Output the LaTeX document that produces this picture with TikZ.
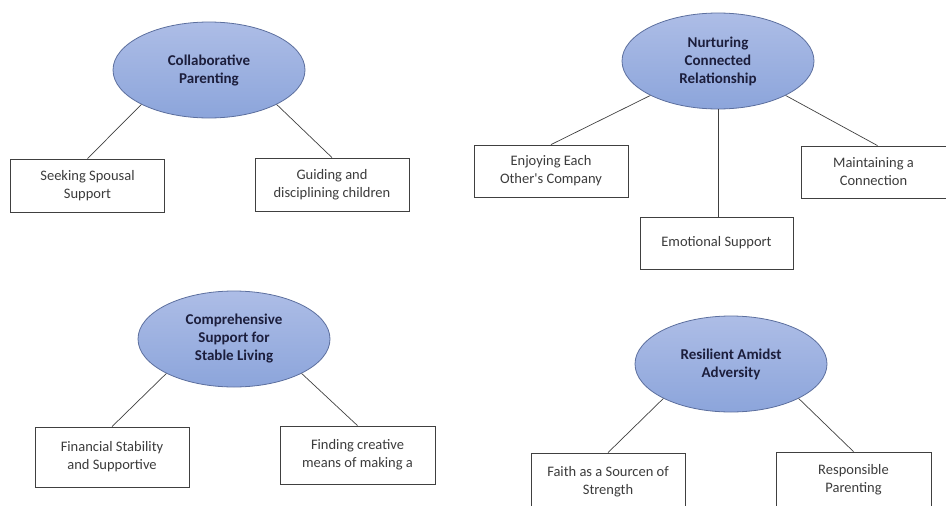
\documentclass[tikz,border=0pt]{standalone}
\usepackage{fontspec}
\setmainfont{Carlito}
\usetikzlibrary{shapes.geometric}
\definecolor{elltop}{HTML}{ADBDE6}
\definecolor{ellbot}{HTML}{8CA5DB}
\definecolor{elldraw}{HTML}{5C6F9E}
\definecolor{elltext}{HTML}{1C1E3C}
\definecolor{boxtext}{HTML}{3C3C3C}
\definecolor{linec}{HTML}{404040}
\tikzset{
  theme/.style={ellipse, draw=elldraw, line width=0.8pt, top color=elltop, bottom color=ellbot,
    minimum width=192pt, minimum height=96pt, inner sep=0pt, align=center,
    font=\fontsize{15}{18}\selectfont\bfseries, text=elltext},
  subbox/.style={rectangle, draw=black!75, line width=0.8pt, fill=white, minimum width=154pt,
    minimum height=53pt, inner sep=0pt, align=center, font=\fontsize{14.5}{18}\selectfont, text=boxtext},
  boxlabel/.style={align=center, font=\fontsize{14.5}{18}\selectfont, text=boxtext},
  link/.style={draw=linec, line width=0.7pt}
}
\begin{document}
\begin{tikzpicture}[x=1pt,y=-1pt]
\useasboundingbox (0,0) rectangle (946,506);
\clip (0,0) rectangle (946,506);
% Collaborative Parenting
\node[theme] (cp) at (209,70) {Collaborative\\Parenting};
\node[subbox] (ss) at (87.5,185.5) {Seeking Spousal\\Support};
\node[subbox] (gd) at (332,184.5) {Guiding and\\disciplining children};
\draw[link] (cp.207) -- (ss.north);
\draw[link] (cp.333) -- (gd.north);
% Nurturing Connected Relationship
\node[theme] (nc) at (718,61) {Nurturing\\Connected\\Relationship};
\node[subbox, minimum height=52pt] (ee) at (551,171) {Enjoying Each\\Other\textquotesingle s Company};
\node[subbox, minimum width=145pt, minimum height=52pt] (mc) at (873.5,172) {Maintaining a\\Connection};
\node[subbox, minimum width=153pt, minimum height=52pt] (es) at (716.5,243) {Emotional Support};
\draw[link] (nc.207) -- (ee.north);
\draw[link] (nc.south) -- (es.north -| nc.south);
\draw[link] (nc.333) -- ([xshift=4pt]mc.north);
% Comprehensive Support
\node[theme] (cs) at (234,339) {Comprehensive\\Support for\\Stable Living};
\node[subbox, minimum height=60pt] (fs) at (112,457) {Financial Stability\\and Supportive};
\node[subbox, minimum width=155pt, minimum height=58pt] (fc) at (357.5,455) {Finding creative\\means of making a};
\draw[link] (cs.207) -- (fs.north);
\draw[link] (cs.333) -- (fc.north);
% Resilient Amidst Adversity
\node[theme] (ra) at (731,364) {Resilient Amidst\\Adversity};
\node[subbox, minimum height=70pt] (fa) at (608,488) {};
\node[subbox, minimum width=155pt, minimum height=70pt] (rp) at (853.5,487) {};
\node[boxlabel] (fat) at (608,482) {Faith as a Sourcen of\\Strength};
\node[boxlabel] (rpt) at (853.5,480) {Responsible\\Parenting};
\draw[link] (ra.207) -- (fa.north);
\draw[link] (ra.333) -- (rp.north);
\end{tikzpicture}
\end{document}
